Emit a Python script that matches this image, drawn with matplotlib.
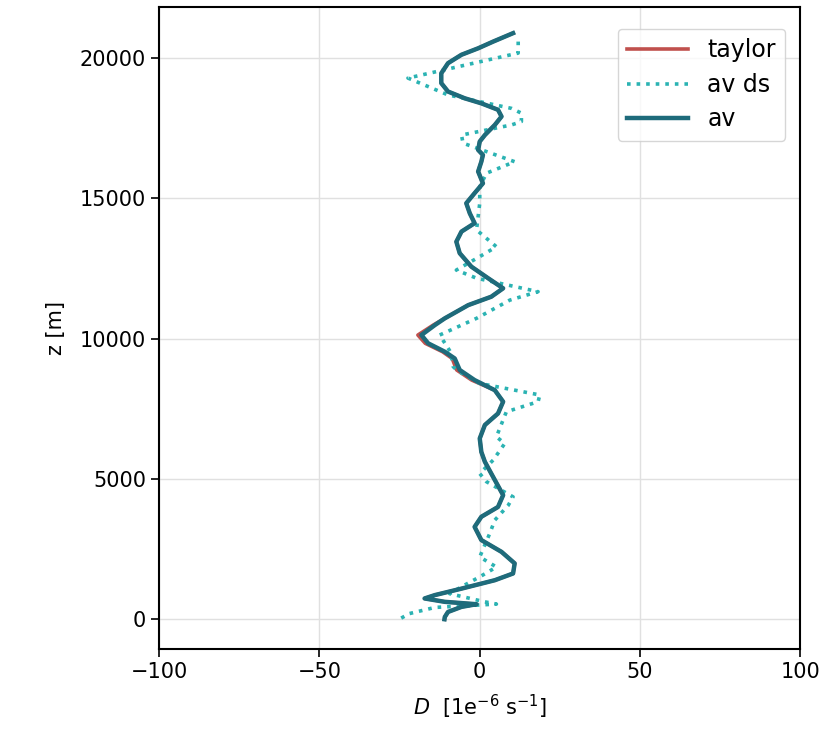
import matplotlib
matplotlib.use('Agg')
import matplotlib.pyplot as plt

# av profile
z_av = [0, 80, 260, 440, 535, 620, 740, 860, 1090, 1390, 1630, 1990, 2400,
        2820, 3290, 3650, 4000, 4420, 5190, 5610, 5960, 6440, 6920, 7330,
        7750, 8160, 8520, 8880, 9290, 9530, 9830, 10125, 10480, 10720, 11190,
        11490, 11790, 12150, 12560, 13040, 13450, 13810, 14110, 14460, 14820,
        15180, 15530, 15950, 16300, 16540, 16720, 17020, 17250, 17610, 17910,
        18150, 18380, 18560, 18800, 19100, 19450, 19810, 20110, 20340, 20580,
        20880]
d_av = [-11, -10.9, -9.9, -5.7, -1, -10.9, -17.2, -14, -5.7, 4.7, 10.4, 10.9, 6.8,
        0.5, -1.6, 0.5, 5.7, 7.3, 3.6, 1.6, 0.5, 0, 1.6, 5.7,
        7.3, 4.7, -1.6, -6.25, -7.8, -10.9, -16.1, -18.2, -14, -10.9, -3.6,
        3.6, 7.3, 2.6, -2.6, -6.25, -7.3, -5.7, -1.6, -3.1, -4.2,
        -1.6, 1, -0.5, 0.5, 1, -0.5, 0, 1.6, 4.7, 6.8,
        5.7, 0.5, -4.7, -9.9, -12, -12, -9.9, -5.7, -0.5, 4.2,
        10.4]

# taylor profile: same heights as av, a little further left around 9-10 km
d_taylor = [-11, -10.9, -9.9, -5.7, -1, -10.9, -17.2, -14, -5.7, 4.7, 10.4, 10.9, 6.8,
            0.5, -1.6, 0.5, 5.7, 7.3, 3.6, 1.6, 0.5, 0, 1.6, 5.7,
            7.3, 4.7, -2.5, -7.2, -8.6, -11.6, -17, -19.3, -14.5, -10.9, -3.6,
            3.6, 7.3, 2.6, -2.6, -6.25, -7.3, -5.7, -1.6, -3.1, -4.2,
            -1.6, 1, -0.5, 0.5, 1, -0.5, 0, 1.6, 4.7, 6.8,
            5.7, 0.5, -4.7, -9.9, -12, -12, -9.9, -5.7, -0.5, 4.2,
            10.4]

# av ds profile (dotted)
z_ds = [40, 200, 420, 540, 620, 910, 1200, 1510, 1860, 2220, 3050, 3530, 4060,
        4360, 4900, 5190, 5670, 6260, 6500, 7390, 7750, 7990, 8400, 8860,
        9000, 9500, 10125, 10720, 11370, 11670, 12150, 12440, 12920, 13270,
        13870, 14820, 15410, 15890, 16300, 16960, 17250, 17610, 17730, 18030,
        18200, 18680, 19280, 20170, 20400, 20600]
d_ds = [-24.5, -22, -14, 5.2, 1.6, -9.4, -5, 0, 5.2, 0, 3.1, 4.7, 8.9,
        10.4, 2.1, 0, 4.2, 7.8, 5.2, 8.3, 18.2, 18.75, 0, -7,
        -8.3, -9, -12.5, -1, 9.4, 18.2, -1, -7.3, 0, 5.2,
        -1, 0, 0, 2.1, 10.9, -5.2, -5.7, 9.9, 13, 13,
        9.9, -9.9, -22.4, 12, 12, 12]

plt.rcParams['font.size'] = 15

fig = plt.figure(figsize=(8.25, 7.33), dpi=100)
ax = fig.add_axes([0.193, 0.115, 0.777, 0.875])

ax.plot(d_taylor, z_av, color='#c0504d', lw=2.6, label='taylor')
ax.plot(d_ds, z_ds, color='#2bb3b3', lw=2.6, ls=':', label='av ds')
ax.plot(d_av, z_av, color='#1e6b7b', lw=3.2, label='av')

ax.set_xlim(-100, 100)
ax.set_ylim(-1050, 21800)
ax.set_xticks([-100, -50, 0, 50, 100])
ax.set_yticks([0, 5000, 10000, 15000, 20000])
ax.grid(True, color='#e0e0e0', lw=1)
ax.set_axisbelow(True)
for s in ax.spines.values():
    s.set_linewidth(1.5)
ax.tick_params(width=1.2, length=6)

ax.set_xlabel(r'$D$  [1e$^{-6}$ s$^{-1}$]', labelpad=8)
ax.set_ylabel('z [m]', labelpad=10)
ax.legend(loc='upper right', fontsize=17, handlelength=2.6,
          labelspacing=0.45, bbox_to_anchor=(0.995, 0.985))

fig.savefig('out.png')
